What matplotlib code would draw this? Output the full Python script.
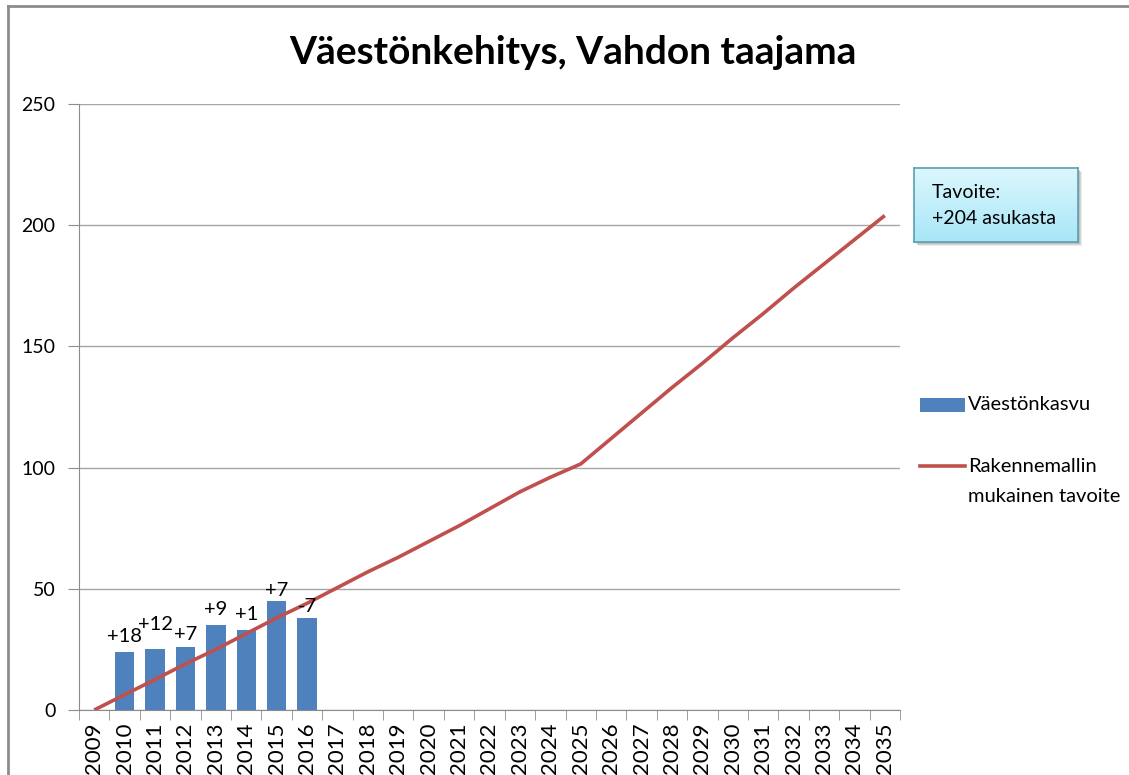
import numpy as np
import matplotlib
matplotlib.use("Agg")
import matplotlib.pyplot as plt
from matplotlib.patches import Rectangle
from matplotlib.lines import Line2D

years = [str(y) for y in range(2009, 2036)]
growth_years = ["2010", "2011", "2012", "2013", "2014", "2015", "2016"]
growth = [24, 25, 26, 35, 33, 45, 38]
growth_labels = ["+18", "+12", "+7", "+9", "+1", "+7", "-7"]
target = [0, 6.3, 12.6, 19, 25, 31.5, 38, 44, 50.5, 57, 63, 69.5, 76, 83, 90,
          96, 101.5, 112, 122.5, 133, 143, 153.5, 163.5, 174, 184, 194, 204]

# label lift above each bar (points), as placed in the original
label_lift = [5, 11.5, 3, 5, 5, 1.5, 2]

BLUE = "#4f81bd"
RED = "#c0504d"

plt.rcParams["font.family"] = ["Lato", "DejaVu Sans"]

W, H = 1129, 775
fig = plt.figure(figsize=(W / 100, H / 100), dpi=100)


def fy(py):
    return 1 - py / H


# outer chart border (only left and top edges visible)
fig.lines.append(Line2D([8 / W, 8 / W], [0, fy(6)], transform=fig.transFigure,
                        color="#8c8c8c", linewidth=2))
fig.lines.append(Line2D([8 / W, 1], [fy(6), fy(6)], transform=fig.transFigure,
                        color="#8c8c8c", linewidth=2))

ax = fig.add_axes([79 / W, fy(710), 821 / W, 606 / H])
x = np.arange(len(years))
bx = [years.index(y) for y in growth_years]

ax.bar(bx, growth, width=0.64, color=BLUE, zorder=2)
ax.plot(x, target, color=RED, linewidth=2.6, zorder=3, solid_capstyle="butt")

for xi, v, lab, lift in zip(bx, growth, growth_labels, label_lift):
    ax.annotate(lab, (xi, v), xytext=(0, lift), textcoords="offset points",
                ha="center", va="bottom", fontsize=14.5, zorder=4)

ax.set_xlim(-0.5, len(years) - 0.5)
ax.set_ylim(0, 250)
ax.set_yticks([0, 50, 100, 150, 200, 250])
ax.yaxis.grid(True, color="#a6a6a6", linewidth=1)
ax.set_axisbelow(True)
ax.set_xticks(x)
ax.set_xticklabels(years, rotation=90, fontsize=16)
ax.set_xticks(np.arange(-0.5, len(years), 1), minor=True)
ax.tick_params(axis="x", which="major", length=0, pad=9)
ax.tick_params(axis="x", which="minor", length=7, color="#8c8c8c", direction="out")
ax.tick_params(axis="y", length=8, color="#8c8c8c", labelsize=14, pad=9)
for s in ["top", "right"]:
    ax.spines[s].set_visible(False)
for s in ["left", "bottom"]:
    ax.spines[s].set_color("#8c8c8c")

fig.text(573 / W, fy(52), "Väestönkehitys, Vahdon taajama", ha="center", va="center",
         fontsize=28, fontweight="bold")

# legend, drawn by hand to keep the wide line spacing
fig.patches.append(Rectangle((920 / W, fy(412)), 45 / W, 14 / H, transform=fig.transFigure,
                             facecolor=BLUE, edgecolor="none"))
fig.text(968 / W, fy(405), "Väestönkasvu", ha="left", va="center", fontsize=14.5)
fig.lines.append(Line2D([920 / W, 965 / W], [fy(466), fy(466)], transform=fig.transFigure,
                        color=RED, linewidth=2.6))
fig.text(968 / W, fy(466), "Rakennemallin", ha="left", va="center", fontsize=14.5)
fig.text(968 / W, fy(497), "mukainen tavoite", ha="left", va="center", fontsize=14.5)

# target callout box with a soft shadow
for k, a in [(4, 0.15), (3, 0.2), (2, 0.25)]:
    sax = fig.add_axes([(914 + k) / W, fy(242 + k), 164 / W, 74 / H], zorder=1)
    sax.set_facecolor("#7f7f7f")
    sax.patch.set_alpha(a)
    sax.set_xticks([])
    sax.set_yticks([])
    for s in sax.spines.values():
        s.set_visible(False)
bax = fig.add_axes([914 / W, fy(242), 164 / W, 74 / H], zorder=2)
grad = np.linspace(0, 1, 50).reshape(-1, 1)
cmap = matplotlib.colors.LinearSegmentedColormap.from_list("g", ["#a8e6f8", "#dcf7fd"])
bax.imshow(grad, aspect="auto", cmap=cmap, extent=[0, 1, 0, 1], origin="lower")
bax.set_xticks([])
bax.set_yticks([])
for s in bax.spines.values():
    s.set_color("#5a9fb0")
    s.set_linewidth(1.2)
fig.text(932 / W, fy(193), "Tavoite:", ha="left", va="center", fontsize=14, zorder=5)
fig.text(932 / W, fy(218), "+204 asukasta", ha="left", va="center", fontsize=14, zorder=5)

fig.savefig("out.png", dpi=100)
